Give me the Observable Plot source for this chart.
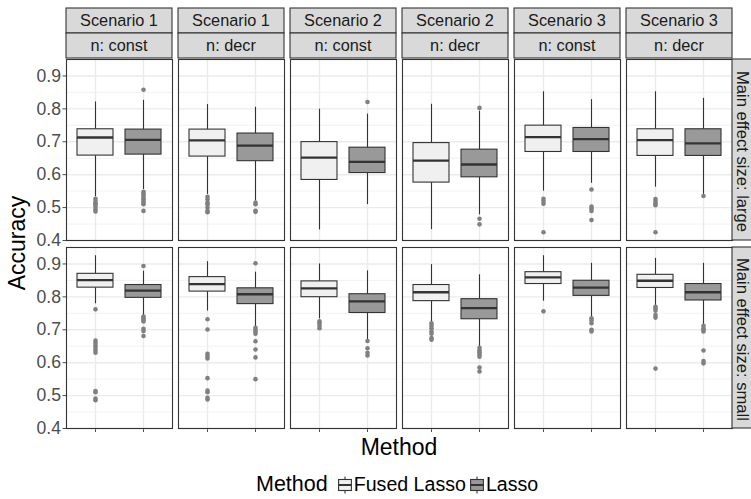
<!DOCTYPE html>
<html><head><meta charset="utf-8">
<script src="https://cdn.jsdelivr.net/npm/d3@7"></script>
<script src="https://cdn.jsdelivr.net/npm/@observablehq/plot@0.6"></script>
<style>
body{margin:0;background:#fff;font-family:"Liberation Sans",Arial,sans-serif;}
#wrap{width:751px;position:relative;}
#legend{height:29px;position:relative;}
#legend .inner{position:absolute;left:256px;top:0;height:29px;display:flex;align-items:center;white-space:nowrap;color:#000;}
#legend .title{font-size:21.5px;margin-right:10px;}
#legend .lab{font-size:19.6px;margin-left:2px;margin-right:4px;}
#legend svg{display:block;}
</style></head><body><div id="wrap"></div>
<script>
// ---- categories ----
const scenarios = ["Scenario 1","Scenario 1","Scenario 2","Scenario 2","Scenario 3","Scenario 3"];
const nTypes = ["n: const","n: decr","n: const","n: decr","n: const","n: decr"];
const effects = ["Main effect size: large","Main effect size: small"];
const methods = ["Fused Lasso","Lasso"];
const fills = ["#f0f0f0","#999999"];
const yMajor = [0.4,0.5,0.6,0.7,0.8,0.9];
const yMinor = [0.45,0.55,0.65,0.75,0.85,0.95];

// ---- box statistics: order = effect (large, small) x column (1..6) x method (Fused Lasso, Lasso) ----
const whiskerLow = [
  0.533,0.555, 0.540,0.520, 0.432,0.509, 0.433,0.478, 0.550,0.574, 0.562,0.540,
  0.779,0.743, 0.757,0.710, 0.733,0.670, 0.723,0.647, 0.787,0.738, 0.774,0.716];
const q1 = [
  0.658,0.661, 0.655,0.641, 0.584,0.605, 0.576,0.592, 0.669,0.669, 0.657,0.657,
  0.828,0.797, 0.816,0.778, 0.799,0.751, 0.787,0.732, 0.839,0.803, 0.827,0.789];
const median = [
  0.713,0.706, 0.704,0.688, 0.652,0.639, 0.643,0.631, 0.714,0.708, 0.705,0.695,
  0.851,0.819, 0.839,0.808, 0.826,0.786, 0.814,0.766, 0.859,0.828, 0.849,0.814];
const q3 = [
  0.738,0.737, 0.737,0.725, 0.699,0.682, 0.696,0.676, 0.749,0.742, 0.738,0.738,
  0.870,0.836, 0.860,0.826, 0.847,0.808, 0.836,0.793, 0.875,0.849, 0.867,0.839];
const whiskerHigh = [
  0.821,0.826, 0.813,0.805, 0.799,0.784, 0.814,0.793, 0.852,0.828, 0.852,0.832,
  0.925,0.878, 0.907,0.875, 0.900,0.879, 0.898,0.867, 0.925,0.902, 0.917,0.902];
const outliers = [
  [0.527,0.52,0.513,0.51,0.503,0.495,0.488],
  [0.858,0.548,0.543,0.537,0.53,0.525,0.52,0.515,0.51,0.49],
  [0.533,0.525,0.515,0.51,0.50,0.49,0.486],
  [0.515,0.51,0.49,0.487],
  [],
  [0.821],
  [],
  [0.803,0.466,0.449],
  [0.527,0.52,0.512,0.425],
  [0.555,0.503,0.497,0.49,0.462],
  [0.526,0.52,0.513,0.507,0.425],
  [0.535],
  [0.762,0.667,0.66,0.652,0.645,0.638,0.63,0.514,0.51,0.491,0.486],
  [0.894,0.74,0.735,0.73,0.725,0.703,0.696,0.681],
  [0.732,0.701,0.627,0.62,0.613,0.553,0.515,0.51,0.493,0.488],
  [0.902,0.706,0.70,0.695,0.688,0.665,0.64,0.616,0.55],
  [0.726,0.72,0.712,0.705],
  [0.666,0.644,0.63,0.622],
  [0.72,0.712,0.705,0.695,0.688,0.675,0.67],
  [0.645,0.638,0.632,0.625,0.618,0.585,0.573],
  [0.756],
  [0.735,0.728,0.72,0.70,0.695],
  [0.77,0.765,0.758,0.745,0.737,0.582],
  [0.712,0.705,0.70,0.695,0.637,0.605,0.598]
];

// ---- build tables ----
const columns = scenarios.map((s,i) => s + "|" + nTypes[i]);
const boxes = [], outlierRows = [];
let k = 0;
effects.forEach(e => columns.forEach(c => methods.forEach(m => {
  boxes.push({effect:e, col:c, method:m, lo:whiskerLow[k], q1:q1[k], med:median[k], q3:q3[k], hi:whiskerHigh[k]});
  outliers[k].forEach(v => outlierRows.push({effect:e, col:c, method:m, value:v}));
  k++;
})));

const FONT = '"Liberation Sans", Arial, sans-serif';
const W = 751, H = 470;
const plot = Plot.plot({
  width: W, height: H,
  marginLeft: 66, marginRight: 19, marginTop: 58, marginBottom: 42,
  style: {fontFamily: FONT, fontSize: "17.6px", color: "#4d4d4d", background: "white", overflow: "visible"},
  fx: {domain: columns, paddingInner: 6/112, paddingOuter: 0, axis: null},
  fy: {domain: effects, paddingInner: 7/188, paddingOuter: 0, axis: null},
  x: {type: "band", domain: methods, paddingInner: 0.25, paddingOuter: 0.225, tickFormat: () => "", tickSize: 4, label: null},
  y: {domain: [0.4, 0.95], ticks: yMajor, tickFormat: d3.format(".1f"), tickSize: 3.5, tickPadding: 2, label: null},
  color: {domain: methods, range: fills},
  marks: [
    Plot.ruleY(yMinor, {stroke: "#efefef", strokeWidth: 0.8}),
    Plot.ruleY(yMajor, {stroke: "#ebebeb", strokeWidth: 1.4}),
    Plot.ruleX(methods, {x: d => d, stroke: "#ebebeb", strokeWidth: 1.4}),
    Plot.ruleX(boxes, {fx: "col", fy: "effect", x: "method", y1: "lo", y2: "q1", stroke: "#333", strokeWidth: 1.1}),
    Plot.ruleX(boxes, {fx: "col", fy: "effect", x: "method", y1: "q3", y2: "hi", stroke: "#333", strokeWidth: 1.1}),
    Plot.barY(boxes, {fx: "col", fy: "effect", x: "method", y1: "q1", y2: "q3", fill: "method", stroke: "#333", strokeWidth: 1.1}),
    Plot.tickY(boxes, {fx: "col", fy: "effect", x: "method", y: "med", stroke: "#333", strokeWidth: 2.3}),
    Plot.dot(outlierRows, {fx: "col", fy: "effect", x: "method", y: "value", r: 2.3, fill: "#808080", stroke: "none"}),
    Plot.frame({stroke: "#333", strokeWidth: 1.1})
  ]
});

// ---- strips & titles ----
const svg = d3.select(plot.tagName.toLowerCase() === "svg" ? plot : plot.querySelector("svg"));
const fx = plot.scale("fx"), fy = plot.scale("fy");
const g = svg.append("g").attr("font-family", FONT);
columns.forEach((c, i) => {
  const x0 = fx.apply(c), w = fx.bandwidth;
  [[8, scenarios[i]], [33, nTypes[i]]].forEach(([y0, t]) => {
    g.append("rect").attr("x", x0).attr("y", y0).attr("width", w).attr("height", 25)
      .attr("fill", "#d9d9d9").attr("stroke", "#333").attr("stroke-width", 1.1);
    g.append("text").attr("x", x0 + w/2).attr("y", y0 + 12.5).attr("dy", "0.36em")
      .attr("text-anchor", "middle").attr("font-size", "16.3px").attr("fill", "#1a1a1a").text(t);
  });
});
effects.forEach(e => {
  const y0 = fy.apply(e), h = fy.bandwidth, x0 = W - 19;
  g.append("rect").attr("x", x0).attr("y", y0).attr("width", 25).attr("height", h)
    .attr("fill", "#d9d9d9").attr("stroke", "#333").attr("stroke-width", 1.1);
  g.append("text").attr("transform", `translate(${x0 + 4.6},${y0 + h/2 + 2}) rotate(90)`)
    .attr("text-anchor", "middle").attr("font-size", "16.6px").attr("fill", "#1a1a1a").text(e);
});
g.append("text").attr("transform", "translate(17,243) rotate(-90)").attr("dy", "0.36em")
  .attr("text-anchor", "middle").attr("font-size", "23px").attr("fill", "#000").text("Accuracy");
g.append("text").attr("x", 399).attr("y", 455)
  .attr("text-anchor", "middle").attr("font-size", "23px").attr("fill", "#000").text("Method");

const wrap = document.getElementById("wrap");
wrap.appendChild(plot);

// ---- legend ----
const legend = document.createElement("div");
legend.id = "legend";
const inner = document.createElement("div");
inner.className = "inner";
const title = document.createElement("span");
title.className = "title"; title.textContent = "Method";
inner.appendChild(title);
methods.forEach((m, i) => {
  const ks = d3.create("svg").attr("width", 14).attr("height", 18);
  ks.append("line").attr("x1", 7).attr("x2", 7).attr("y1", 0.5).attr("y2", 17.5).attr("stroke", "#333").attr("stroke-width", 1.1);
  ks.append("rect").attr("x", 0.6).attr("y", 3.5).attr("width", 12.8).attr("height", 11).attr("fill", fills[i]).attr("stroke", "#333").attr("stroke-width", 1.1);
  ks.append("line").attr("x1", 0.6).attr("x2", 13.4).attr("y1", 9).attr("y2", 9).attr("stroke", "#333").attr("stroke-width", 2);
  inner.appendChild(ks.node());
  const lab = document.createElement("span");
  lab.className = "lab"; lab.textContent = m;
  inner.appendChild(lab);
});
legend.appendChild(inner);
wrap.appendChild(legend);
</script></body></html>
